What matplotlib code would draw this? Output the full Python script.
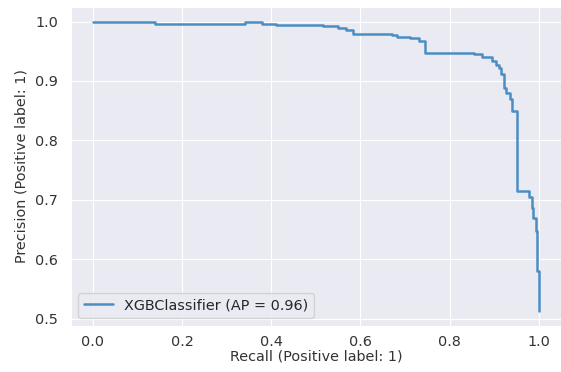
import matplotlib
matplotlib.use("Agg")
import matplotlib.pyplot as plt
import seaborn as sns

sns.set_style("darkgrid")

# precision-recall breakpoints (recall increasing)
recall = [0.0, 0.14, 0.34, 0.38, 0.41, 0.515, 0.55, 0.567, 0.583, 0.671,
          0.683, 0.712, 0.732, 0.745, 0.855, 0.873, 0.895, 0.904, 0.911,
          0.915, 0.922, 0.926, 0.935, 0.940, 0.951, 0.978, 0.984, 0.988,
          0.993, 0.994, 0.997, 1.0]
precision = [1.0, 0.996, 0.999, 0.996, 0.994, 0.992, 0.989, 0.986, 0.979,
             0.977, 0.974, 0.972, 0.968, 0.947, 0.945, 0.940, 0.933, 0.927,
             0.922, 0.911, 0.888, 0.880, 0.869, 0.850, 0.715, 0.704, 0.687,
             0.670, 0.656, 0.648, 0.580, 0.513]
label = "XGBClassifier (AP = 0.96)"

fs = 10.4
fig = plt.figure(figsize=(5.61, 3.72), dpi=100)
ax = fig.add_axes([0.126, 0.125, 0.874, 0.856])

ax.step(recall, precision, where="post", color="#4a8ec4", lw=1.8, label=label)

ax.set_xlabel("Recall (Positive label: 1)", fontsize=fs, color="#333333", labelpad=1)
ax.set_ylabel("Precision (Positive label: 1)", fontsize=fs, color="#333333", labelpad=5)
ax.tick_params(labelsize=fs, colors="#333333", length=0)
ax.tick_params(axis="x", pad=6.5)
ax.tick_params(axis="y", pad=9)
ax.set_yticks([0.5, 0.6, 0.7, 0.8, 0.9, 1.0])
ax.legend(loc="lower left", fontsize=fs)

fig.savefig("out.png", dpi=100)
